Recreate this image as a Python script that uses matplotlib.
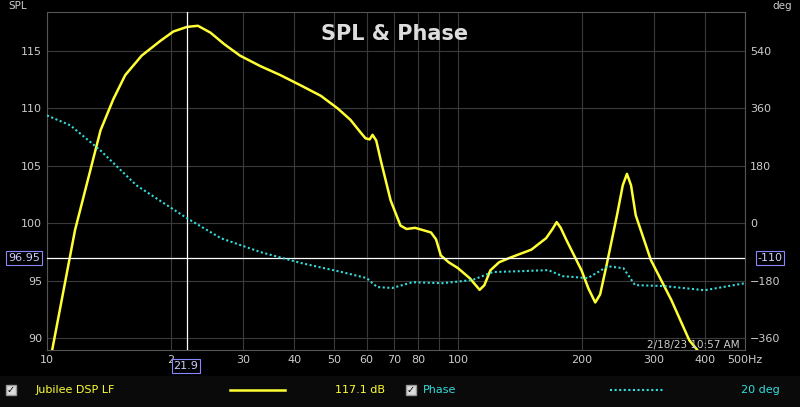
import matplotlib
matplotlib.use("Agg")
import matplotlib.pyplot as plt
from matplotlib.patches import Rectangle

spl_freq = [10.3, 11.7, 13.5, 14.5, 15.5, 17, 18.9, 20.3, 21.9, 23.3, 25, 27, 29.5, 33, 37, 41.5, 46.4,
            51, 54.8, 58, 59.6, 61, 62, 63.3, 64.9, 68.6, 72.5, 75, 78.7, 86, 88.5, 90.9, 95, 100,
            107, 113, 116, 120, 126, 134, 151, 164, 170, 174, 178, 184, 200, 208, 216, 222, 230,
            244, 252, 258, 264, 271, 295, 331, 366, 382]
spl_db = [89, 99.4, 108.1, 110.8, 112.9, 114.6, 115.9, 116.7, 117.1, 117.2, 116.6, 115.6, 114.6, 113.7,
          112.9, 112.0, 111.1, 110.0, 109, 107.9, 107.4, 107.3, 107.7, 107.2, 105.5, 102, 99.8, 99.5,
          99.6, 99.2, 98.6, 97.2, 96.6, 96.1, 95.2, 94.2, 94.6, 95.9, 96.6, 97, 97.7, 98.7, 99.5,
          100.1, 99.6, 98.5, 95.9, 94.3, 93.1, 93.8, 96.3, 100.7, 103.3, 104.3, 103.3, 100.7, 96.8,
          93.3, 89.8, 89]
ph_freq = [10, 11.4, 13.5, 16.5, 21.9, 26.5, 33.2, 41.6, 52.2, 60, 63.6, 69.2, 77.5, 91.8, 108.5,
           121.6, 144, 166, 180, 207, 232, 253, 270, 318, 399, 500]
ph_deg = [338, 307, 228, 119, 16, -47, -91, -125, -153, -172, -200, -203, -185, -188, -178, -153,
          -150, -147, -166, -172, -135, -141, -194, -197, -210, -188]
xticks = [10, 20, 30, 40, 50, 60, 70, 80, 100, 200, 300, 400, 500]
xlabels = ["10", "2", "30", "40", "50", "60", "70", "80", "100", "200", "300", "400", "500Hz"]
yticks = [90, 95, 100, 105, 110, 115]
phticks = [-360, -180, 0, 180, 360, 540]

fig = plt.figure(figsize=(8, 4.07), dpi=100, facecolor="black")
ax = fig.add_axes([47/800, 57/407, 698/800, 338/407], facecolor="black")
ax.set_xscale("log")
ax.set_xlim(10, 500)
ax.set_ylim(88.96, 118.4)
for s in ax.spines.values():
    s.set_color("#555555")
grid_f = [f for f in range(10, 100, 10)] + [f for f in range(100, 501, 100)]
for f in grid_f:
    ax.axvline(f, color="#3a3a3a", lw=0.8, zorder=0)
for y in range(90, 119, 5):
    ax.axhline(y, color="#3a3a3a", lw=0.8, zorder=0)
ax.set_xticks(xticks)
ax.set_xticklabels(xlabels)
ax.minorticks_off()
ax.set_yticks(yticks)
ax.tick_params(colors="#cccccc", labelsize=8, length=0)
ax2 = ax.twinx()
ax2.set_ylim((88.96-100)*36, (118.4-100)*36)
ax2.set_yticks(phticks)
ax2.tick_params(colors="#cccccc", labelsize=8, length=0)
for s in ax2.spines.values():
    s.set_visible(False)

ax.plot(spl_freq, spl_db, color="#ffff33", lw=1.8, zorder=3, solid_joinstyle="round")
ax2.plot(ph_freq, ph_deg, color="#33dddd", lw=1.5, ls=(0, (1, 1.2)), zorder=3)

ax.axvline(21.9, color="white", lw=0.9, zorder=4)
ax.axhline(96.95, color="white", lw=0.9, zorder=4)

fig.text(395/800, 1-34/407, "SPL & Phase", color="#dddddd", fontsize=15, fontweight="bold", ha="center", va="center")
fig.text(8/800, 1-6/407, "SPL", color="#cccccc", fontsize=7.5, va="center")
fig.text(772/800, 1-6/407, "deg", color="#cccccc", fontsize=7.5, va="center")
fig.text(740/800, 1-345/407, "2/18/23 10:57 AM", color="#cccccc", fontsize=7.5, ha="right", va="center")
box = dict(boxstyle="square,pad=0.15", fc="black", ec="#8888ff", lw=0.8)
fig.text(186/800, 1-366/407, "21.9", color="#ccccff", fontsize=8, ha="center", va="center", bbox=box)
fig.text(24/800, 1-258/407, "96.95", color="#ccccff", fontsize=8, ha="center", va="center", bbox=box)
fig.text(770/800, 1-258/407, "-110", color="#ccccff", fontsize=8, ha="center", va="center", bbox=box)

fig.patches.append(Rectangle((0, 0), 1, 31/407, transform=fig.transFigure, fc="#0a0a0a", ec="none"))
for x0 in [6, 406]:
    fig.patches.append(Rectangle((x0/800, 12/407), 10/800, 10/407, transform=fig.transFigure, fc="#dddddd", ec="#999999"))
    fig.text((x0+5)/800, 17/407, "✓", color="black", fontsize=7, ha="center", va="center")
fig.text(36/800, 17/407, "Jubilee DSP LF", color="#ffff33", fontsize=8, va="center")
fig.add_artist(plt.Line2D([230/800, 285/800], [17/407, 17/407], color="#ffff33", lw=1.8, transform=fig.transFigure))
fig.text(385/800, 17/407, "117.1 dB", color="#ffff33", fontsize=8, ha="right", va="center")
fig.text(423/800, 17/407, "Phase", color="#33dddd", fontsize=8, va="center")
fig.add_artist(plt.Line2D([610/800, 665/800], [17/407, 17/407], color="#33dddd", lw=1.5, ls=(0, (1, 1.2)), transform=fig.transFigure))
fig.text(780/800, 17/407, "20 deg", color="#33dddd", fontsize=8, ha="right", va="center")

fig.savefig("out.png", dpi=100, facecolor="black")
